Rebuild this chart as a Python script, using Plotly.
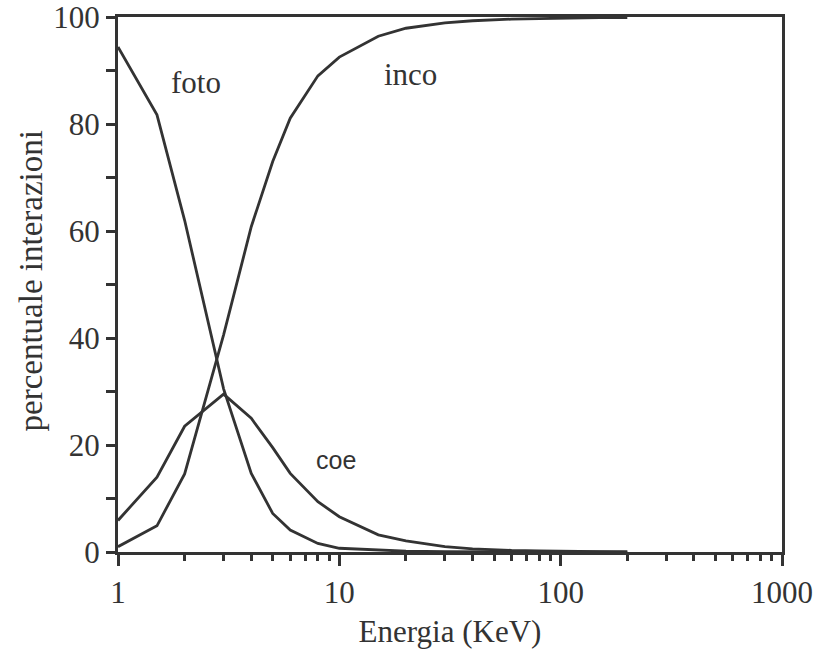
import plotly.graph_objects as go
import math

energy = [1, 1.5, 2, 3, 4, 5, 6, 8, 10, 15, 20, 30, 40, 50, 60, 80, 100, 150, 200]
foto = [94.4, 81.7, 62.0, 30.5, 14.7, 7.2, 4.1, 1.6, 0.7, 0.3, 0.15, 0.05, 0.02, 0.01, 0, 0, 0, 0, 0]
coe = [5.9, 14.0, 23.5, 29.5, 25.0, 19.5, 14.7, 9.4, 6.6, 3.2, 2.1, 1.0, 0.6, 0.4, 0.3, 0.2, 0.1, 0.05, 0.03]
inco = [1.0, 4.9, 14.6, 40.6, 60.8, 73.0, 81.1, 89.0, 92.5, 96.4, 97.9, 98.9, 99.3, 99.5, 99.6, 99.7, 99.8, 99.9, 99.9]

labels = [("foto", 2.25, 87.7, "Liberation Serif", 31),
          ("inco", 20.9, 89.3, "Liberation Serif", 31),
          ("coe", 9.7, 17.2, "Liberation Sans", 25)]

ink = "#333333"
fig = go.Figure()
for ys in (foto, coe, inco):
    fig.add_trace(go.Scatter(x=energy, y=ys, mode="lines",
                             line=dict(color=ink, width=2.8), showlegend=False))

for text, xv, yv, fam, sz in labels:
    fig.add_annotation(x=math.log10(xv), y=yv, text=text, showarrow=False,
                       font=dict(family=fam, size=sz, color=ink),
                       xanchor="center", yanchor="middle")

fig.add_annotation(xref="paper", yref="paper", x=0, y=0.5, xshift=-88, yshift=3,
                   text="percentuale interazioni", textangle=-90, showarrow=False,
                   font=dict(family="Liberation Serif", size=33, color=ink),
                   xanchor="center", yanchor="middle")

fig.update_layout(
    width=822, height=653,
    margin=dict(l=118, r=40, t=17, b=101),
    paper_bgcolor="white", plot_bgcolor="white",
    font=dict(family="Liberation Serif", size=31, color=ink),
)
fig.update_xaxes(
    type="log", range=[0, 3], automargin=False, ticklabeloverflow="allow",
    showline=True, linewidth=3, linecolor=ink, mirror=True,
    showgrid=False, zeroline=False,
    ticks="outside", ticklen=11, tickwidth=2.5, tickcolor=ink,
    tickvals=[1, 10, 100, 1000], ticktext=["1", "10", "100", "1000"],
    minor=dict(ticks="outside", ticklen=6, tickwidth=2.5, tickcolor=ink,
               tickvals=[m * 10 ** d for d in range(3) for m in range(2, 10)],
               showgrid=False),
    title=dict(text="Energia (KeV)", font=dict(size=31), standoff=12),
    tickfont=dict(size=31),
)
fig.update_yaxes(
    range=[0, 100], dtick=20, automargin=False, ticklabeloverflow="allow",
    showline=True, linewidth=3, linecolor=ink, mirror=True,
    showgrid=False, zeroline=False,
    ticks="outside", ticklen=9, tickwidth=2.5, tickcolor=ink,
    minor=dict(ticks="outside", ticklen=9, tickwidth=2.5, tickcolor=ink, dtick=10, showgrid=False),
    tickfont=dict(size=31),
)
fig.write_html("out.html")
